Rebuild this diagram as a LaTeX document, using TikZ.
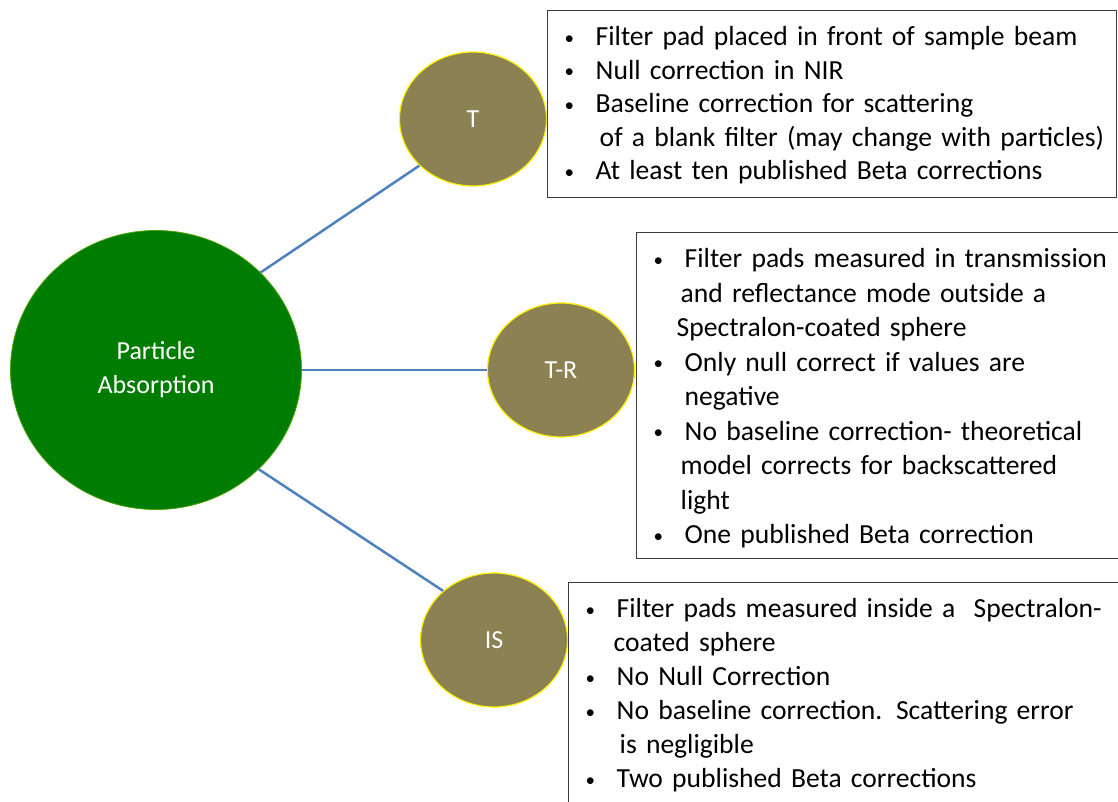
\documentclass[tikz,border=0pt]{standalone}
\usepackage{fontspec}
\setmainfont{Carlito}
\definecolor{hubgreen}{RGB}{0, 124, 0}
\definecolor{olivefill}{RGB}{140, 129, 82}
\definecolor{linkblue}{RGB}{79, 129, 189}
\definecolor{framegray}{RGB}{60, 60, 60}
\usetikzlibrary{shapes.geometric, positioning}
\newcommand{\bul}{\makebox[34pt][l]{\hspace*{3pt}\raisebox{1.5pt}{\fontsize{19}{19}\selectfont\textbullet}}}
\newcommand{\ind}[1]{\hspace*{#1pt}}

\begin{document}
\begin{tikzpicture}[x=1pt, y=-1pt,
    hub/.style={ellipse, fill=hubgreen, draw=hubgreen!70!yellow, line width=0.8pt,
                minimum width=291pt, minimum height=279pt, text=white, align=center,
                font=\fontsize{26}{34}\selectfont},
    method/.style={ellipse, fill=olivefill, draw=yellow, line width=1.2pt,
                minimum width=147pt, minimum height=134pt, text=white,
                font=\fontsize{26}{31}\selectfont},
    notes/.style={rectangle, draw=framegray, line width=1.4pt, fill=white, anchor=north west,
                inner xsep=14pt, inner ysep=8pt, text height=27pt, align=left},
    link/.style={draw=linkblue, line width=2.5pt}]
  \useasboundingbox (0,0) rectangle (1118,801);

  % centre and the three methods
  \node[hub] (absorp) at (156,370) {Particle\\Absorption};
  \node[method] (trans) at (473,119) {T};
  \node[method] (transrefl) at (561,370) {T-R};
  \node[method] (sphere) at (494,640) {IS};

  \draw[link] (absorp.43.6) -- (trans.221);
  \draw[link] (absorp.0) -- (transrefl.180);
  \draw[link] (absorp.-44) -- (sphere.136.6);

  % notes for each method
  \node[notes, text width=541pt, text depth=144pt, font=\fontsize{27.6}{33.5}\selectfont]
    (transnotes) at (547,10) {
      \bul Filter pad placed in front of sample beam\\
      \bul Null correction in NIR\\
      \bul Baseline correction for scattering\\
      \ind{38}\mbox{of a blank filter (may change with particles)}\\
      \bul At least ten published Beta corrections
    };
  \node[notes, text width=540pt, text depth=283pt, font=\fontsize{27.6}{34.5}\selectfont]
    (trnotes) at (636,232) {
      \bul Filter pads measured in transmission\\
      \ind{30}and reflectance mode outside a\\
      \ind{26}Spectralon-coated sphere\\
      \bul Only null correct if values are\\
      \ind{34}negative\\
      \bul No baseline correction- theoretical\\
      \ind{30}model corrects for backscattered\\
      \ind{30}light\\
      \bul One published Beta correction
    };
  \node[notes, text width=560pt, text depth=205pt, font=\fontsize{27.6}{34}\selectfont]
    (isnotes) at (568,582) {
      \bul Filter pads measured inside a\ \ Spectralon-\\
      \ind{31}coated sphere\\
      \bul No Null Correction\\
      \bul No baseline correction. Scattering error\\
      \ind{37}is negligible\\
      \bul Two published Beta corrections
    };
\end{tikzpicture}
\end{document}
